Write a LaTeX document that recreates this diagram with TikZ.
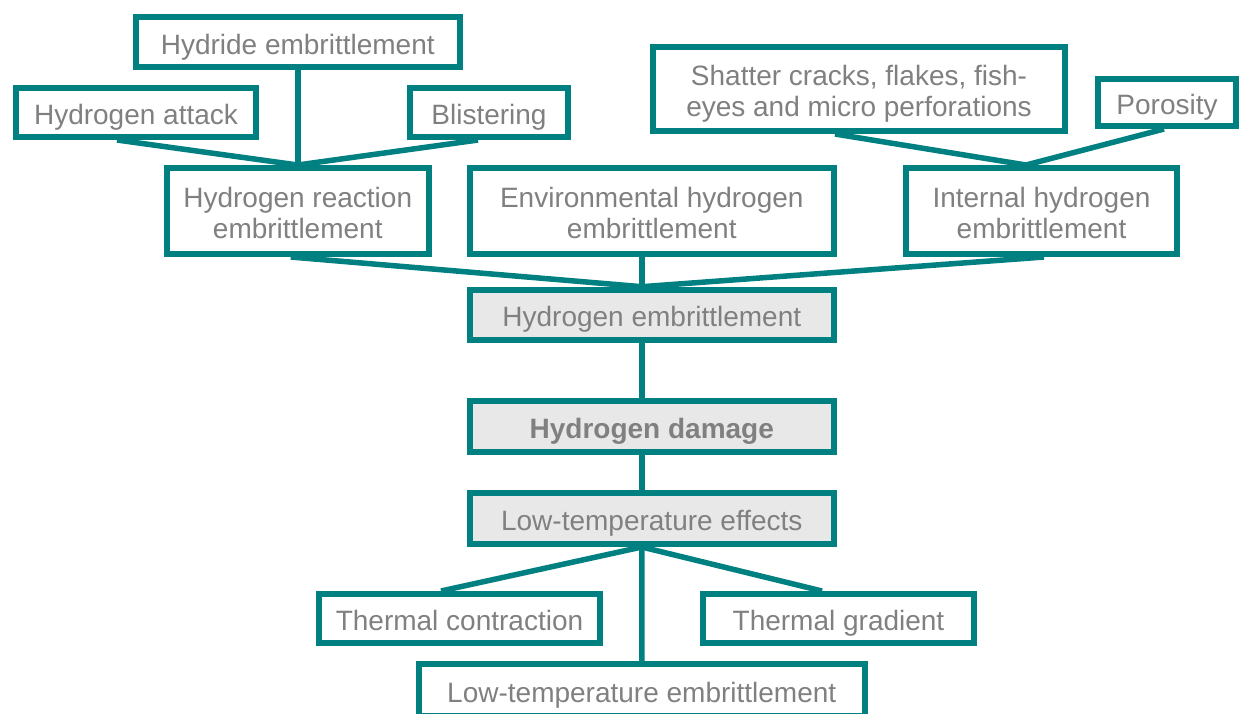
\documentclass[tikz,border=0pt]{standalone}
\usepackage{fontspec}
\setmainfont{Liberation Sans}
\usetikzlibrary{backgrounds}
\definecolor{teal1}{RGB}{0,128,128}
\definecolor{txtgray}{RGB}{128,128,128}
\definecolor{boxgray}{RGB}{232,232,232}
\newcommand{\twol}[2]{\rule{0pt}{29.5pt}#1\\#2\rule[-6pt]{0pt}{0pt}}
\tikzset{
  box/.style={draw=teal1, line width=6pt, fill=white, inner sep=0pt, align=center,
    text=txtgray, font=\fontsize{28}{31.5}\selectfont},
  onel/.style={box, text height=30pt, text depth=6pt},
  twobox/.style={box, minimum height=86pt},
  graybox/.style={onel, fill=boxgray, minimum width=364pt},
  conn/.style={draw=teal1, line width=5.5pt},
}
\begin{document}
\begin{tikzpicture}[x=1pt,y=-1pt]
\useasboundingbox (0,0) rectangle (1245,713);
\node[onel, minimum width=323.5pt, minimum height=50pt] (hyd) at (297.75,42) {Hydride embrittlement};
\node[onel, minimum width=240pt, minimum height=49pt] (att) at (136,112.5) {Hydrogen attack};
\node[onel, minimum width=158pt, minimum height=49pt] (bli) at (489,112.5) {Blistering};
\node[twobox, minimum width=261.5pt] (hre) at (297.75,211) {\twol{Hydrogen reaction}{embrittlement}};
\node[twobox, minimum width=364pt] (ehe) at (651.8,211) {\twol{Environmental hydrogen}{embrittlement}};
\node[twobox, minimum width=271pt] (ihe) at (1041.5,211) {\twol{Internal hydrogen}{embrittlement}};
\node[box, minimum width=412pt, minimum height=84pt] (sha) at (859,89) {\twol{Shatter cracks, flakes, fish-}{eyes and micro perforations}};
\node[onel, minimum width=138pt, minimum height=47pt] (por) at (1167,102.5) {Porosity};
\node[graybox, minimum height=50pt] (he) at (651.8,314.7) {Hydrogen embrittlement};
\node[graybox, minimum height=51pt, font=\fontsize{28}{31.5}\selectfont\bfseries] (hd) at (651.8,426.5) {Hydrogen damage};
\node[graybox, minimum height=51pt] (lte) at (651.8,518.5) {Low-temperature effects};
\node[onel, minimum width=281pt, minimum height=49pt] (tc) at (459.5,618.5) {Thermal contraction};
\node[onel, minimum width=271pt, minimum height=49pt] (tg) at (838.5,618.5) {Thermal gradient};
\node[onel, minimum width=445.5pt, minimum height=52pt] (lteb) at (641.75,690) {Low-temperature embrittlement};
\begin{scope}[on background layer]
  \draw[conn] ([xshift=-19pt]att.south) -- (hre.north);
  \draw[conn] (hyd.south) -- (hre.north);
  \draw[conn] ([xshift=-11pt]bli.south) -- (hre.north);
  \draw[conn] ([xshift=-24pt]sha.south) -- ([xshift=-15.5pt]ihe.north);
  \draw[conn] ([xshift=-3pt]por.south) -- ([xshift=-15.5pt]ihe.north);
  \draw[conn] ([xshift=-7pt]hre.south) -- ([xshift=-10pt]he.north);
  \draw[conn] ([xshift=-10pt]ehe.south) -- ([xshift=-10pt]he.north);
  \draw[conn] ([xshift=2.5pt]ihe.south) -- ([xshift=-10pt]he.north);
  \draw[conn] ([xshift=-10pt]he.south) -- ([xshift=-10pt]hd.north);
  \draw[conn] ([xshift=-10pt]hd.south) -- ([xshift=-10pt]lte.north);
  \draw[conn] ([xshift=-10pt]lte.south) -- ([xshift=-18.5pt]tc.north);
  \draw[conn] ([xshift=-10pt]lte.south) -- ([xshift=-16.5pt]tg.north);
  \draw[conn] ([xshift=-10pt]lte.south) -- (lteb.north);
\end{scope}
\end{tikzpicture}
\end{document}
